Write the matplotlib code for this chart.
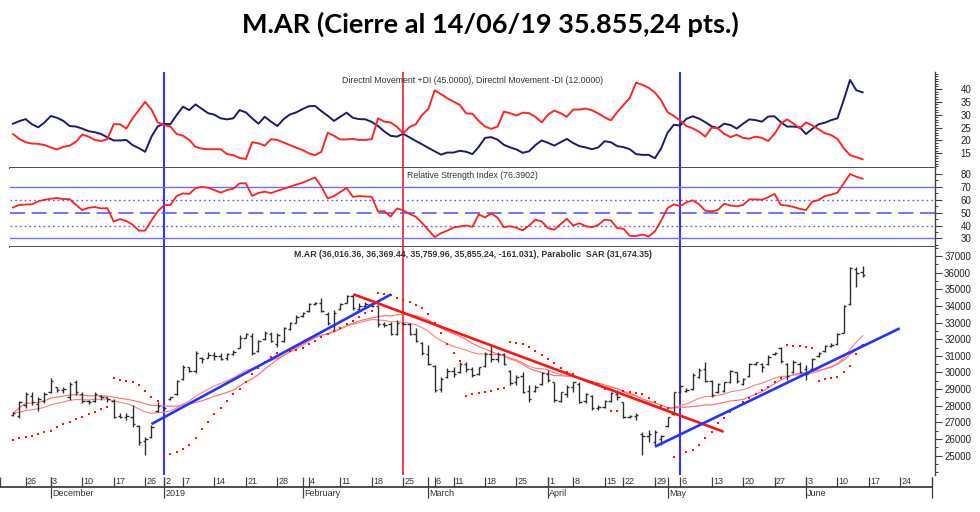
import numpy as np
import pandas as pd
import matplotlib
matplotlib.use("Agg")
import matplotlib.pyplot as plt
from matplotlib.ticker import MultipleLocator

FIG_W, FIG_H = 980, 512

# trading calendar of the chart (BCBA holidays left out)
CAL_START = "2018-11-20"
CAL_END = "2019-07-05"
DATA_START = "2018-11-22"
HOLIDAYS = ["2018-11-30", "2018-12-24", "2018-12-25", "2018-12-31", "2019-01-01",
            "2019-03-04", "2019-03-05", "2019-04-02", "2019-04-18", "2019-04-19",
            "2019-05-01"]

# daily bars 22/11/18 -> 14/06/19
opens = [27450, 27400, 28050, 28600, 28100, 28300, 28800, 29100, 28950, 28500,
         29400, 28700, 28300, 28300, 28600, 28500, 28300, 27400, 27350, 27300,
         26800, 25900, 26100, 27700, 27900, 28400, 28700, 29600, 30300, 30100,
         30900, 30900, 31050, 31000, 30900, 31100, 31500, 32100, 32200, 31300,
         32000, 32300, 31700, 31900, 32600, 33000, 33400, 33700, 34100, 34200,
         33500, 32800, 33800, 34200, 34600, 33800, 34000, 34100, 34000, 32900,
         32900, 32300, 33000, 32900, 32300, 31800, 31100, 30400, 29000, 29700,
         30100, 30000, 30500, 30200, 29900, 30400, 31100, 30800, 31100, 30100,
         29400, 29800, 28900, 28900, 29300, 29900, 29400, 28300, 28700, 29100,
         29300, 28300, 28600, 27850, 27900, 28300, 28700, 28200, 27350, 27400,
         26300, 26200, 25800, 26000, 26800, 27500, 28800, 28900, 29000, 29700,
         30200, 29500, 28800, 28900, 29400, 30000, 29300, 29800, 30500, 30500,
         30500, 31100, 31500, 30500, 30000, 30500, 30200, 30200, 31000, 31300,
         31600, 31700, 32400, 34100, 36200, 36016.36]
highs = [27650, 28290, 28850, 28850, 28550, 28850, 29650, 29150, 29150, 29400,
         29550, 28850, 28350, 28850, 28650, 28550, 28400, 27550, 27550, 28050,
         26850, 26150, 26850, 28250, 27950, 28550, 29550, 30450, 30350, 31300,
         30950, 31250, 31250, 31150, 31150, 31350, 32250, 32350, 32350, 31950,
         32500, 32450, 32350, 32750, 33050, 33450, 33650, 34150, 34250, 34450,
         33650, 33750, 34150, 34650, 34700, 34150, 34250, 34150, 34050, 33050,
         33050, 33150, 33050, 32950, 32650, 31850, 31650, 30450, 29750, 30250,
         30350, 30650, 30650, 30350, 30350, 31250, 31650, 31250, 31150, 30150,
         29850, 30050, 29250, 29250, 30050, 30150, 29450, 28850, 29250, 29450,
         29450, 28750, 28650, 28050, 28350, 28850, 28950, 28250, 27450, 27550,
         26450, 26550, 26550, 26250, 27350, 28850, 29250, 29050, 29950, 30250,
         30650, 29550, 29350, 29450, 30150, 30050, 29650, 30550, 30650, 30550,
         31050, 31250, 31550, 30550, 30750, 30650, 30450, 30850, 31250, 31650,
         31750, 32350, 34050, 36350, 36350, 36369.44]
lows = [27400, 27290, 27850, 28050, 27700, 28150, 28750, 28850, 28750, 28350,
        28650, 28150, 28100, 28250, 28350, 28250, 27250, 27250, 27150, 26750,
        25650, 25050, 26050, 27650, 27750, 28350, 28650, 29550, 30050, 29950,
        30550, 30850, 30750, 30750, 30750, 31050, 31450, 32050, 31050, 31250,
        31950, 31850, 31550, 31850, 32550, 32950, 33350, 33650, 34050, 33650,
        32850, 32500, 33750, 34150, 33750, 33650, 33850, 33950, 32750, 32750,
        32250, 32250, 32850, 32250, 31850, 31050, 30450, 28850, 28850, 29650,
        29750, 29950, 30050, 29750, 29850, 30350, 30650, 30650, 30450, 29250,
        29250, 28750, 28250, 28850, 29250, 29450, 28250, 28250, 28550, 28850,
        28150, 28150, 27750, 27750, 27850, 28250, 28350, 27250, 27250, 27150,
        25050, 25850, 25650, 25650, 26750, 27450, 28750, 28850, 28950, 29650,
        29450, 28550, 28750, 28850, 29350, 29350, 29250, 29750, 30450, 30050,
        30450, 31050, 30550, 29550, 29950, 29950, 29550, 30150, 30950, 31250,
        31550, 31650, 32350, 34050, 35150, 35759.96]
closes = [27550, 28200, 28700, 28200, 28400, 28700, 29500, 28950, 29000, 29300,
          28800, 28300, 28200, 28700, 28500, 28400, 27350, 27350, 27400, 26900,
          25800, 26000, 26700, 28000, 27850, 28500, 29500, 30300, 30100, 31200,
          30800, 31050, 31000, 30800, 31100, 31250, 32100, 32300, 31200, 31900,
          32400, 31900, 32250, 32700, 33000, 33350, 33600, 34100, 34200, 33700,
          33000, 33600, 34100, 34600, 33850, 34000, 34100, 34000, 32900, 32850,
          32300, 33000, 32900, 32300, 31900, 31150, 30500, 28950, 29600, 30100,
          29900, 30500, 30200, 29850, 30300, 31100, 30800, 31100, 30500, 29350,
          29750, 28850, 28400, 29150, 29950, 29550, 28350, 28800, 29100, 29400,
          28250, 28700, 27850, 27900, 28300, 28750, 28500, 27350, 27400, 27450,
          26200, 26300, 26400, 26200, 27300, 28800, 29200, 28950, 29850, 30150,
          29500, 28650, 29300, 29400, 30100, 29500, 29600, 30500, 30600, 30300,
          30950, 31200, 30700, 29800, 30600, 30000, 29900, 30800, 31200, 31600,
          31650, 32300, 34000, 36300, 36000, 35855.24]
sar = [25940, 26080, 26140, 26200, 26280, 26400, 26500, 26750, 26890, 27050,
       27200, 27350, 27490, 27650, 27790, 27950, 29650, 29550, 29490, 29410,
       29250, 28890, 28550, 28290, 25000, 25080, 25200, 25400, 25640, 26040,
       26590, 27050, 27490, 27890, 28290, 28690, 29010, 29450, 29890, 30290,
       30650, 30950, 31150, 31250, 31290, 31350, 31490, 31690, 31890, 32150,
       32300, 32500, 32700, 32900, 33100, 33350, 33550, 33700, 34750, 34720,
       34660, 34500, 34360, 34260, 34060, 33860, 33500, 32950, 32350, 31690,
       31150, 30690, 28610, 28690, 28750, 28850, 28910, 29010, 29090, 31850,
       31750, 31690, 31550, 31290, 31050, 30810, 30550, 30290, 30050, 29890,
       29650, 29490, 29410, 29300, 29010, 27710, 27710, 28900, 28850, 28780,
       28690, 28490, 28250, 28010, 27890, 24940, 25040, 25200, 25340, 25640,
       26040, 26440, 26950, 27290, 27650, 27950, 28250, 28450, 28690, 28950,
       29150, 29450, 29690, 31650, 31620, 31590, 31550, 31490, 29510, 29590,
       29650, 29750, 30010, 30410, 31090, 31674.35]

# Directional Movement and RSI, same days
plus_di = [26.5, 27.5, 28.3, 26.3, 25.1, 27.0, 29.5, 28.8, 27.6, 25.6,
           25.4, 24.6, 23.6, 23.2, 22.5, 21.2, 20.0, 20.0, 20.2, 18.2,
           17.0, 15.6, 21.5, 25.5, 26.5, 26.3, 29.9, 33.1, 31.8, 34.0,
           32.3, 30.6, 30.0, 28.6, 28.2, 28.6, 31.8, 30.9, 28.6, 26.5,
           29.2, 27.3, 25.6, 28.3, 30.1, 30.9, 32.2, 33.3, 33.4, 31.4,
           29.6, 27.6, 29.2, 30.8, 28.8, 28.3, 28.2, 27.2, 25.6, 23.5,
           21.8, 21.5, 22.6, 21.2, 19.8, 18.5, 17.1, 15.8, 14.5, 15.3,
           15.3, 16.0, 15.6, 14.7, 17.5, 21.0, 21.3, 20.3, 18.3,
           17.3, 16.5, 15.2, 15.8, 18.2, 20.0, 19.1, 18.0, 19.3, 20.6,
           19.0, 17.8, 17.3, 16.6, 17.3, 19.7, 19.3, 17.8, 17.4, 16.6,
           14.7, 14.4, 14.4, 13.1, 17.0, 23.0, 26.1, 25.8, 28.4, 29.4,
           28.5, 27.1, 25.5, 24.8, 26.5, 26.0, 24.6, 26.5, 28.2, 27.9,
           27.3, 29.3, 29.4, 27.1, 25.4, 25.4, 25.1, 22.5, 24.5, 26.3,
           26.9, 27.9, 28.6, 35.7, 43.5, 39.5, 38.7]
minus_di = [22.5, 20.6, 19.3, 18.8, 18.7, 18.2, 17.3, 16.5, 17.5, 18.0,
            19.5, 22.3, 21.5, 20.2, 19.8, 20.5, 26.3, 26.3, 24.6, 28.6,
            31.8, 35.0, 32.0, 27.0, 26.0, 25.4, 22.5, 21.9, 20.2, 17.5,
            16.8, 16.6, 16.6, 16.6, 14.7, 14.3, 13.2, 12.8, 19.3, 18.9,
            18.0, 20.5, 20.2, 19.2, 18.2, 17.2, 16.3, 15.0, 14.3, 15.6,
            23.0, 21.8, 20.4, 20.4, 20.6, 20.2, 20.2, 20.5, 28.6, 27.3,
            27.0, 25.3, 22.8, 25.2, 26.3, 29.9, 32.3, 39.5, 38.0, 36.4,
            35.1, 33.8, 30.5, 30.4, 27.6, 25.4, 24.5, 25.4, 31.2,
            30.6, 29.7, 30.8, 30.6, 29.2, 27.0, 30.0, 31.6, 30.6, 29.2,
            32.0, 32.0, 32.4, 31.7, 30.5, 29.0, 27.8, 31.0, 33.8, 36.5,
            42.5, 41.6, 40.5, 38.6, 35.5, 31.0, 29.5, 27.8, 25.6, 24.7,
            23.4, 21.5, 25.0, 24.7, 22.6, 21.3, 22.2, 21.0, 20.7, 21.5,
            21.0, 19.8, 22.5, 26.5, 28.2, 26.6, 24.7, 27.0, 25.8, 24.4,
            22.8, 22.1, 20.6, 17.0, 14.3, 13.5, 12.7]
rsi = [54.0, 56.0, 56.3, 56.5, 58.8, 60.0, 60.8, 61.4, 60.5, 60.5,
       56.0, 52.0, 53.8, 54.4, 53.3, 53.5, 43.0, 45.0, 43.5, 40.6,
       36.0, 36.0, 44.0, 51.0, 55.8, 55.9, 62.9, 65.0, 64.5, 69.0,
       70.0, 69.4, 67.5, 65.5, 67.6, 68.6, 72.8, 72.8, 63.0, 65.3,
       66.3, 65.2, 67.0, 68.5, 70.2, 71.8, 73.3, 75.3, 77.4, 70.2,
       61.0, 62.9, 66.0, 69.2, 62.3, 62.9, 62.6, 62.3, 50.9, 51.2,
       46.9, 53.3, 51.8, 49.0, 46.8, 42.0, 36.5, 31.0, 34.0, 36.0,
       38.5, 39.3, 40.0, 39.0, 48.6, 46.3, 49.4, 46.0, 38.6,
       39.5, 38.2, 36.2, 40.0, 44.5, 43.2, 38.0, 36.7, 41.0, 45.3,
       40.0, 41.8, 39.5, 38.6, 40.5, 44.5, 44.0, 38.0, 37.5, 32.0,
       31.8, 33.0, 31.5, 35.5, 44.0, 53.5, 56.5, 55.0, 58.0, 59.6,
       56.5, 51.5, 51.0, 52.0, 57.0, 55.5, 55.0, 55.9, 60.3, 60.3,
       60.0, 62.0, 64.6, 56.0, 55.5, 54.5, 53.0, 52.0, 58.5, 59.8,
       62.9, 64.0, 65.5, 72.8, 80.0, 77.9, 76.4]

# drawn trend lines (bar number, price) and marked days
trend_i0 = [22.0, 54.1, 102.0]
trend_p0 = [26900, 34700, 25540]
trend_i1 = [60.1, 112.9, 140.9]
trend_p1 = [34700, 26440, 32655]
trend_colors = ["#2434ff", "#ff1414", "#2434ff"]
event_days = ["2019-01-02", "2019-02-25", "2019-05-06"]
event_colors = ["#3434ff", "#e01010", "#3434ff"]

MONTHS = ["January", "February", "March", "April", "May", "June", "July",
          "August", "September", "October", "November", "December"]

# ---- calendar -> bar numbers
cal = pd.bdate_range(CAL_START, CAL_END)
cal = cal[~cal.isin(pd.to_datetime(HOLIDAYS))]
pos = np.arange(len(cal)) - cal.get_loc(pd.Timestamp(DATA_START))
idx = np.arange(len(closes))

XMIN, XMAX = -0.48, 146.5
XMIN_STRIP = -2.07

def box(left, top, right, bottom):
    return [left / FIG_W, 1 - bottom / FIG_H, (right - left) / FIG_W, (bottom - top) / FIG_H]

plt.rcParams["font.family"] = ["Liberation Sans", "DejaVu Sans"]
fig = plt.figure(figsize=(FIG_W / 100, FIG_H / 100), dpi=100)
fig.patch.set_facecolor("white")

ax_dmi = fig.add_axes(box(10, 72, 935, 168))
ax_rsi = fig.add_axes(box(10, 168, 935, 247))
ax_px = fig.add_axes(box(10, 247, 935, 475))
ax_dt = fig.add_axes(box(0, 475, 935, 500))

for ax in (ax_dmi, ax_rsi, ax_px):
    ax.set_xlim(XMIN, XMAX)
    ax.set_xticks([])
    for s in ("left", "top"):
        ax.spines[s].set_visible(False)
    ax.spines["right"].set_color("#404040")
    ax.spines["right"].set_linewidth(1.0)
    ax.spines["bottom"].set_color("#505050")
    ax.spines["bottom"].set_linewidth(1.4)
    ax.yaxis.tick_right()
    ax.tick_params(axis="y", which="major", length=5, width=0.8, color="#404040",
                   labelsize=7, labelcolor="#222222", pad=21)
    ax.tick_params(axis="y", which="minor", length=2.5, width=0.7, color="#404040")
ax_px.spines["bottom"].set_visible(False)

# event verticals across the three panels
ev_pos = [pos[cal.get_loc(pd.Timestamp(d))] for d in event_days]
for p, c in zip(ev_pos, event_colors):
    for ax in (ax_dmi, ax_rsi, ax_px):
        ax.axvline(p, color=c, lw=1.5 if c != "#e01010" else 1.1, zorder=1)

# ---- DMI
ax_dmi.plot(idx, plus_di, color="#1b1b66", lw=1.4, zorder=3)
ax_dmi.plot(idx, minus_di, color="#ff2626", lw=1.4, zorder=3)
ax_dmi.set_ylim(9.3, 46.6)
ax_dmi.set_yticks([15, 20, 25, 30, 35, 40])
ax_dmi.yaxis.set_minor_locator(MultipleLocator(1))
ax_dmi.text(0.5, 0.915, "Directnl Movement +DI (45.0000), Directnl Movement -DI (12.0000)",
            transform=ax_dmi.transAxes, ha="center", va="center", fontsize=6.3, color="#333333")

# ---- RSI
for lvl in (70, 30):
    ax_rsi.axhline(lvl, color="#6f6fff", lw=1.0, zorder=2)
for lvl in (60, 40):
    ax_rsi.axhline(lvl, color="#5a5aff", lw=1.0, ls=(0, (1.2, 2.2)), zorder=2)
ax_rsi.axhline(50, color="#5a5aff", lw=1.2, ls=(0, (9, 4)), zorder=2)
ax_rsi.plot(idx, rsi, color="#ff2020", lw=1.3, zorder=3)
ax_rsi.set_ylim(23.3, 84.7)
ax_rsi.set_yticks([30, 40, 50, 60, 70, 80])
ax_rsi.yaxis.set_minor_locator(MultipleLocator(5))
ax_rsi.text(0.5, 0.91, "Relative Strength Index (76.3902)", transform=ax_rsi.transAxes,
            ha="center", va="center", fontsize=6.3, color="#333333")

# ---- price bars, averages, SAR, trend lines
s_close = pd.Series(closes)
ma1 = s_close.rolling(20, min_periods=1).mean()
ma2 = s_close.ewm(span=20, adjust=False).mean()
ax_px.plot(idx, ma1, color="#ff6a6a", lw=0.8, zorder=2)
ax_px.plot(idx, ma2, color="#ff8080", lw=0.8, zorder=2)

ax_px.vlines(idx, lows, highs, color="#2e2e2e", lw=1.0, zorder=3)
ax_px.hlines(opens, idx - 0.38, idx, color="#2e2e2e", lw=1.0, zorder=3)
ax_px.hlines(closes, idx, idx + 0.38, color="#2e2e2e", lw=1.0, zorder=3)
ax_px.scatter(idx, sar, s=4, marker="s", color="#ff1010", linewidths=0, zorder=4)

for a0, b0, a1, b1, c in zip(trend_i0, trend_p0, trend_i1, trend_p1, trend_colors):
    ax_px.plot([a0, a1], [b0, b1], color=c, lw=1.9, zorder=5, solid_capstyle="butt")

ax_px.set_ylim(23839, 37541)
ax_px.set_yticks(np.arange(25000, 37001, 1000))
ax_px.yaxis.set_minor_locator(MultipleLocator(500))
ax_px.text(0.5, 0.965,
           "M.AR (36,016.36, 36,369.44, 35,759.96, 35,855.24, -161.031), Parabolic  SAR (31,674.35)",
           transform=ax_px.transAxes, ha="center", va="center", fontsize=6.3,
           fontweight="bold", color="#333333")

for ax in (ax_dmi, ax_rsi, ax_px):
    for lbl in ax.get_yticklabels():
        lbl.set_horizontalalignment("right")

# ---- date strip
ax_dt.set_xlim(XMIN_STRIP, XMAX)
ax_dt.set_ylim(0, 1)
ax_dt.axis("off")
ax_dt.plot([XMIN_STRIP, 146.0], [0.52, 0.52], color="#404040", lw=1.3)
week_key = cal.isocalendar().week.values * 1 + cal.year.values * 100
first_week = np.r_[True, week_key[1:] != week_key[:-1]]
first_month = np.r_[True, cal.month.values[1:] != cal.month.values[:-1]]
for d, p, fw, fm in zip(cal, pos, first_week, first_month):
    if p < XMIN_STRIP or p > XMAX:
        continue
    if fm and d != cal[0]:
        ax_dt.vlines(p, 0.08, 0.92, color="#404040", lw=0.9)
        if p < 145:
            name = str(d.year) if d.month == 1 else MONTHS[d.month - 1]
            ax_dt.text(p + 0.2, 0.26, name, ha="left", va="center", fontsize=6.5,
                       color="#333333")
    if fw:
        ax_dt.vlines(p, 0.52, 0.92, color="#404040", lw=0.9)
        if 0 <= p < 145:
            ax_dt.text(p + 0.2, 0.72, str(d.day), ha="left", va="center",
                       fontsize=6.5, color="#333333")

fig.text(0.5, 1 - 24 / FIG_H, "M.AR (Cierre al 14/06/19 35.855,24 pts.)",
         ha="center", va="center", fontsize=19.5, fontweight="bold", family="Lato")

fig.savefig("out.png", dpi=100)
